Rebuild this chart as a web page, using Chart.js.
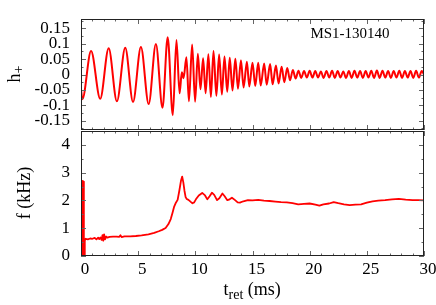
<!DOCTYPE html>
<html>
<head>
<meta charset="utf-8">
<script src="https://cdn.jsdelivr.net/npm/chart.js@4.4.1/dist/chart.umd.min.js"></script>
<style>
  html, body { margin: 0; padding: 0; background: #fff; }
  #wrap { position: relative; width: 436px; height: 305px; }
  #wrap canvas { position: absolute; left: 0; top: 0; }
</style>
</head>
<body>
<div id="wrap">
  <canvas id="chH" width="436" height="305"></canvas>
  <canvas id="chF" width="436" height="305"></canvas>
</div>
<script>
// Tick labels
const tTicks = [0, 5, 10, 15, 20, 25, 30];
const hTicks = [-0.15, -0.1, -0.05, 0, 0.05, 0.1, 0.15];
const fTicks = [0, 1, 2, 3, 4];
const runLabel = 'MS1-130140';

// h+ : extremos de la onda (ms, adimensional)
const hTime = [
  0.00, 0.12, 0.88, 1.68, 2.42, 3.14, 3.87, 4.55, 5.24, 5.92,
  6.55, 7.13, 7.58, 8.03, 8.35, 8.62, 8.82, 8.97, 9.22, 9.44,
  9.72, 9.98, 10.22, 10.45, 10.68, 10.90, 11.14, 11.36, 11.59, 11.84,
  12.08, 12.32, 12.55, 12.79, 13.01, 13.25, 13.50, 13.73, 13.99, 14.22,
  14.51, 14.72, 15.00, 15.24, 15.50, 15.72, 16.02, 16.24, 16.54, 16.76,
  17.05, 17.28, 17.55, 17.78, 18.04, 18.28, 18.53, 18.77, 19.02, 19.26,
  19.51, 19.75, 20.00, 20.24, 20.49, 20.73, 20.98, 21.22, 21.47, 21.71,
  21.96, 22.20, 22.45, 22.69, 22.94, 23.18, 23.43, 23.67, 23.92, 24.16,
  24.41, 24.65, 24.90, 25.14, 25.39, 25.63, 25.88, 26.12, 26.37, 26.61,
  26.86, 27.10, 27.35, 27.59, 27.84, 28.08, 28.33, 28.57, 28.82, 29.06,
  29.31, 29.55, 29.80, 30.00
];
const hPlus = [
  -0.048, -0.080, 0.076, -0.079, 0.085, -0.087, 0.087, -0.089, 0.089, -0.096,
  0.099, -0.108, 0.121, -0.132, 0.112, -0.061, 0.007, -0.012, 0.056, -0.087,
  0.097, -0.088, 0.067, -0.048, 0.053, -0.061, 0.066, -0.073, 0.076, -0.069,
  0.065, -0.065, 0.058, -0.056, 0.054, -0.052, 0.051, -0.046, 0.046, -0.042,
  0.041, -0.039, 0.038, -0.037, 0.038, -0.036, 0.036, -0.033, 0.034, -0.032,
  0.029, -0.029, 0.025, -0.025, 0.021, -0.019, 0.015, -0.013, 0.012, -0.011,
  0.011, -0.010, 0.012, -0.010, 0.011, -0.010, 0.010, -0.011, 0.011, -0.010,
  0.012, -0.011, 0.011, -0.010, 0.010, -0.011, 0.011, -0.011, 0.012, -0.010,
  0.011, -0.011, 0.011, -0.010, 0.012, -0.011, 0.013, -0.011, 0.012, -0.010,
  0.011, -0.011, 0.011, -0.010, 0.012, -0.011, 0.011, -0.010, 0.011, -0.011,
  0.012, -0.010, 0.011, 0.000
];

// f : frecuencia instantanea (ms, kHz)
const fTime = [
  0.00, 0.03, 0.06, 0.09, 0.12, 0.17, 0.21, 0.25, 0.28, 0.33,
  0.40, 0.60, 0.80, 1.00, 1.20, 1.35, 1.50, 1.60, 1.70, 1.80,
  1.88, 1.95, 2.02, 2.10, 2.20, 2.30, 2.50, 2.80, 3.10, 3.35,
  3.45, 3.55, 3.80, 4.30, 4.80, 5.30, 5.90, 6.40, 6.80, 7.10,
  7.40, 7.65, 7.85, 8.00, 8.15, 8.30, 8.45, 8.60, 8.75, 8.85,
  8.95, 9.05, 9.15, 9.25, 9.40, 9.60, 9.75, 9.90, 10.05, 10.30,
  10.60, 10.85, 11.05, 11.25, 11.45, 11.65, 11.90, 12.10, 12.37, 12.55,
  12.80, 13.00, 13.20, 13.45, 13.70, 13.90, 14.20, 14.60, 15.00, 15.50,
  16.00, 16.50, 17.00, 17.50, 18.00, 18.50, 19.00, 19.50, 20.00, 20.50,
  20.85, 21.20, 21.70, 22.10, 22.50, 23.00, 23.50, 24.00, 24.50, 25.00,
  25.50, 26.00, 26.60, 27.20, 27.80, 28.40, 29.00, 29.50, 30.00
];
const fKHz = [
  0.30, 2.65, 2.60, 0.10, 0.00, 2.70, 2.68, 0.20, 0.00, 0.55,
  0.62, 0.60, 0.63, 0.62, 0.65, 0.60, 0.66, 0.61, 0.67, 0.58,
  0.75, 0.55, 0.78, 0.60, 0.70, 0.66, 0.69, 0.70, 0.70, 0.69,
  0.75, 0.68, 0.71, 0.71, 0.72, 0.74, 0.78, 0.83, 0.89, 0.94,
  1.01, 1.15, 1.33, 1.55, 1.78, 1.92, 2.02, 2.35, 2.72, 2.86,
  2.65, 2.35, 2.12, 2.05, 2.02, 1.95, 1.90, 1.93, 2.04, 2.18,
  2.27, 2.18, 2.04, 2.15, 2.28, 2.20, 2.01, 2.08, 2.25, 2.16,
  2.01, 2.04, 2.10, 2.02, 1.93, 1.92, 1.97, 2.01, 2.00, 2.02,
  1.99, 1.98, 1.96, 1.94, 1.93, 1.90, 1.86, 1.88, 1.89, 1.85,
  1.81, 1.86, 1.89, 1.94, 1.90, 1.86, 1.83, 1.85, 1.86, 1.92,
  1.97, 1.99, 2.01, 2.04, 2.06, 2.03, 2.01, 2.01, 2.00
];

(function () {
  const W = 436, H = 305;
  const plotLeft = 81, plotRight = 424;
  const hTop = 19, hBottom = 130, fTop = 131, fBottom = 256;
  const SERIF = "'Liberation Serif', 'DejaVu Serif', serif";
  const RED = '#ff0000';

  Chart.defaults.font.family = SERIF;
  Chart.defaults.color = '#000';

  // Helpers
  const pts = (xs, ys) => xs.map((x, i) => ({ x, y: ys[i] }));
  const fixedTicks = values => scale => { scale.ticks = values.map(v => ({ value: v })); };
  function fitY(s) { s.width = plotLeft; s.paddingTop = 0; s.paddingBottom = 0; }

  function eachTick(scale, majors, step, fn) {
    const n0 = Math.ceil(scale.min / step - 1e-6), n1 = Math.floor(scale.max / step + 1e-6);
    for (let n = n0; n <= n1; n++) {
      const v = n * step;
      fn(v, majors.some(m => Math.abs(m - v) < step / 10));
    }
  }

  // Marco + ticks hacia adentro (estilo gnuplot)
  const framePlugin = {
    id: 'frame',
    afterDatasetsDraw(chart, args, o) {
      const { ctx, chartArea: a } = chart;
      const xs = chart.scales.x, ys = chart.scales.y;
      ctx.save();
      ctx.lineWidth = 1;
      ctx.strokeStyle = '#666';
      ctx.beginPath();
      eachTick(xs, o.xMajors, o.xMinor, (v, major) => {
        const p = Math.round(xs.getPixelForValue(v)) + 0.5, len = major ? 5 : 2.5;
        ctx.moveTo(p, a.top); ctx.lineTo(p, a.top + len);
        ctx.moveTo(p, a.bottom); ctx.lineTo(p, a.bottom - len);
      });
      eachTick(ys, o.yMajors, o.yMinor, (v, major) => {
        const p = Math.round(ys.getPixelForValue(v)) + 0.5, len = major ? 5 : 2.5;
        ctx.moveTo(a.left, p); ctx.lineTo(a.left + len, p);
        ctx.moveTo(a.right, p); ctx.lineTo(a.right - len, p);
      });
      ctx.stroke();
      ctx.strokeStyle = '#222';
      ctx.strokeRect(a.left + 0.5, a.top + 0.5, a.width - 1, a.height - 1);
      ctx.restore();
    }
  };

  // Texto con subindices: parts = [{t, size, dy}]
  function drawParts(ctx, parts, x, y, align) {
    const widths = parts.map(p => { ctx.font = `${p.size}px ${SERIF}`; return ctx.measureText(p.t).width; });
    const total = widths.reduce((a, b) => a + b, 0);
    let cx = align === 'center' ? x - total / 2 : x;
    ctx.textAlign = 'left';
    ctx.textBaseline = 'alphabetic';
    parts.forEach((p, i) => {
      ctx.font = `${p.size}px ${SERIF}`;
      ctx.fillText(p.t, cx, y + (p.dy || 0));
      cx += widths[i];
    });
  }
  function drawRotated(ctx, parts, baseX, centerY) {
    ctx.save();
    ctx.translate(baseX, centerY);
    ctx.rotate(-Math.PI / 2);
    drawParts(ctx, parts, 0, 0, 'center');
    ctx.restore();
  }

  const lineStyle = { borderColor: RED, borderWidth: 2, pointRadius: 0, fill: false, borderJoinStyle: 'round' };
  const tickOpts = { font: { size: 17 }, autoSkip: false, maxRotation: 0, callback: v => String(v) };

  // Panel superior: h+
  new Chart(document.getElementById('chH'), {
    type: 'line',
    data: { datasets: [{ ...lineStyle, data: pts(hTime, hPlus), cubicInterpolationMode: 'monotone' }] },
    options: {
      responsive: false, animation: false, devicePixelRatio: 1,
      layout: { padding: { left: 0, right: W - plotRight, top: hTop, bottom: H - hBottom } },
      plugins: {
        legend: { display: false }, tooltip: { enabled: false },
        frame: { xMajors: tTicks, xMinor: 1, yMajors: hTicks, yMinor: 0.025 }
      },
      scales: {
        x: { type: 'linear', min: 0, max: 30, display: false },
        y: {
          min: -0.18, max: 0.18,
          afterBuildTicks: fixedTicks(hTicks), afterFit: fitY,
          grid: { display: false, drawTicks: false }, border: { display: false },
          ticks: { ...tickOpts, padding: 11 }
        }
      }
    },
    plugins: [framePlugin, {
      id: 'hText',
      afterDraw(chart) {
        const ctx = chart.ctx;
        ctx.save();
        ctx.fillStyle = '#000';
        drawParts(ctx, [{ t: runLabel, size: 15 }], 350, 37.5, 'center');
        drawRotated(ctx, [{ t: 'h', size: 18 }, { t: '+', size: 14, dy: 3 }], 20, 74);
        ctx.restore();
      }
    }]
  });

  // Panel inferior: f (kHz)
  new Chart(document.getElementById('chF'), {
    type: 'line',
    data: { datasets: [{ ...lineStyle, borderWidth: 1.8, data: pts(fTime, fKHz), tension: 0 }] },
    options: {
      responsive: false, animation: false, devicePixelRatio: 1,
      layout: { padding: { left: 0, right: W - plotRight, top: fTop, bottom: 0 } },
      plugins: {
        legend: { display: false }, tooltip: { enabled: false },
        frame: { xMajors: tTicks, xMinor: 1, yMajors: fTicks, yMinor: 0.5 }
      },
      scales: {
        x: {
          type: 'linear', min: 0, max: 30,
          afterBuildTicks: fixedTicks(tTicks),
          afterFit: s => { s.height = H - fBottom; },
          grid: { display: false, drawTicks: false }, border: { display: false },
          ticks: { ...tickOpts, padding: 3, labelOffset: 4 }
        },
        y: {
          min: 0, max: 4.5,
          afterBuildTicks: fixedTicks(fTicks), afterFit: fitY,
          grid: { display: false, drawTicks: false }, border: { display: false },
          ticks: { ...tickOpts, padding: 11 }
        }
      }
    },
    plugins: [framePlugin, {
      id: 'fText',
      afterDraw(chart) {
        const ctx = chart.ctx;
        ctx.save();
        ctx.fillStyle = '#000';
        drawRotated(ctx, [{ t: 'f (kHz)', size: 18 }], 29.5, 193);
        drawParts(ctx, [{ t: 't', size: 18 }, { t: 'ret', size: 14, dy: 4 }, { t: ' (ms)', size: 18 }], 223.5, 295, 'left');
        ctx.restore();
      }
    }]
  });
})();
</script>
</body>
</html>
